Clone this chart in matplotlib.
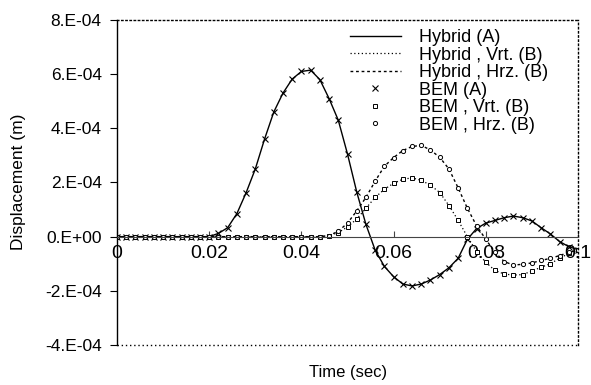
import matplotlib; matplotlib.use('Agg')
import matplotlib.pyplot as plt
from matplotlib.ticker import FuncFormatter

plt.rcParams['font.family'] = ['Liberation Sans', 'DejaVu Sans']

# time steps (sec)
time = [0.000, 0.002, 0.004, 0.006, 0.008, 0.010, 0.012, 0.014, 0.016, 0.018,
        0.020, 0.022, 0.024, 0.026, 0.028, 0.030, 0.032, 0.034, 0.036, 0.038,
        0.040, 0.042, 0.044, 0.046, 0.048, 0.050, 0.052, 0.054, 0.056, 0.058,
        0.060, 0.062, 0.064, 0.066, 0.068, 0.070, 0.072, 0.074, 0.076, 0.078,
        0.080, 0.082, 0.084, 0.086, 0.088, 0.090, 0.092, 0.094, 0.096, 0.098,
        0.100]

# displacement in units of 1E-4 m
disp_a = [0, 0, 0, 0, 0, 0, 0, 0, 0, 0,
          0, 0.12, 0.33, 0.85, 1.62, 2.5, 3.6, 4.6, 5.3, 5.82,
          6.1, 6.15, 5.8, 5.1, 4.3, 3.05, 1.65, 0.45, -0.5, -1.1,
          -1.48, -1.75, -1.82, -1.75, -1.6, -1.4, -1.15, -0.8, -0.1, 0.3,
          0.5, 0.6, 0.7, 0.76, 0.7, 0.58, 0.33, 0.1, -0.18, -0.37,
          -0.48]
disp_vrt = [0, 0, 0, 0, 0, 0, 0, 0, 0, 0,
            0, 0, 0, 0, 0, 0, 0, 0, 0, 0,
            0, 0, 0, 0.03, 0.15, 0.36, 0.65, 1.05, 1.45, 1.75,
            1.97, 2.12, 2.17, 2.08, 1.9, 1.63, 1.15, 0.6, 0.0, -0.55,
            -0.95, -1.25, -1.38, -1.42, -1.4, -1.27, -1.13, -1.0, -0.8, -0.62,
            -0.5]
disp_hrz = [0, 0, 0, 0, 0, 0, 0, 0, 0, 0,
            0, 0, 0, 0, 0, 0, 0, 0, 0, 0,
            0, 0, 0, 0.04, 0.2, 0.5, 0.95, 1.45, 2.05, 2.6,
            2.92, 3.18, 3.33, 3.37, 3.2, 2.93, 2.5, 1.8, 1.05, 0.4,
            -0.1, -0.58, -0.92, -1.05, -1.02, -0.97, -0.88, -0.8, -0.7, -0.58,
            -0.5]

x_ticks = [0, 0.02, 0.04, 0.06, 0.08, 0.1]
x_labels = ["0", "0.02", "0.04", "0.06", "0.08", "0.1"]
y_ticks = [-4e-4, -2e-4, 0, 2e-4, 4e-4, 6e-4, 8e-4]

scale = 1e-4
a = [v * scale for v in disp_a]
vrt = [v * scale for v in disp_vrt]
hrz = [v * scale for v in disp_hrz]

fig = plt.figure(figsize=(5.91, 3.85), dpi=100)
ax = fig.add_axes([0.198, 0.104, 0.780, 0.844])

ax.plot(time, a, color="black", lw=1.0, label="Hybrid (A)")
ax.plot(time, vrt, color="black", lw=0.9, ls=(0, (1, 2)), label="Hybrid , Vrt. (B)")
ax.plot(time, hrz, color="black", lw=1.0, ls=(0, (2, 2)), label="Hybrid , Hrz. (B)")
ax.plot(time, a, ls="none", marker="x", ms=4, mew=0.8, color="black", label="BEM (A)")
ax.plot(time, vrt, ls="none", marker="s", ms=3, mew=0.7, mfc="white", color="black",
        label="BEM , Vrt. (B)")
ax.plot(time, hrz, ls="none", marker="o", ms=3, mew=0.7, mfc="white", color="black",
        label="BEM , Hrz. (B)")

ax.set_xlim(0, 0.1)
ax.set_ylim(-4e-4, 8e-4)

# x axis drawn through zero, border drawn dotted
ax.spines["bottom"].set_position(("data", 0))
ax.spines["bottom"].set_color("#444444")
ax.spines["left"].set_linewidth(1.0)
for s in ["top", "right"]:
    ax.spines[s].set_linestyle((0, (1, 2)))
    ax.spines[s].set_linewidth(1.0)
ax.plot([0, 1], [0, 0], transform=ax.transAxes, color="black", lw=1.0,
        ls=(0, (1, 2)), clip_on=False)

ax.set_xticks(x_ticks)
ax.set_xticklabels(x_labels)
ax.set_yticks(y_ticks)
ax.yaxis.set_major_formatter(FuncFormatter(
    lambda v, p: "0.E+00" if abs(v) < 1e-12 else "%d.E-04" % round(v / 1e-4)))
ax.tick_params(axis="x", direction="in", length=4, labelsize=14, pad=6, color="#444444")
ax.tick_params(axis="y", direction="out", length=5, labelsize=12.5, pad=6)

fig.text(0.589, 0.033, "Time (sec)", ha="center", va="center", fontsize=12)
fig.text(0.032, 0.527, "Displacement (m)", ha="center", va="center",
         rotation=90, fontsize=12.5)

ax.legend(loc="upper left", bbox_to_anchor=(350 / 591, 1 - 29 / 385),
          bbox_transform=fig.transFigure, frameon=False, fontsize=13,
          handlelength=2.8, handletextpad=1.0, labelspacing=0.03,
          borderaxespad=0, borderpad=0)

fig.savefig("out.png", dpi=100)
